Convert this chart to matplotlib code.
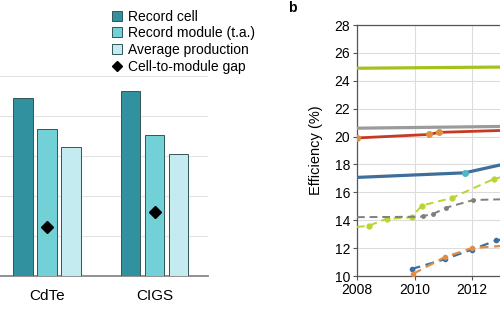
import numpy as np
import matplotlib.pyplot as plt
from matplotlib.lines import Line2D

plt.rcParams['font.family'] = ['Liberation Sans', 'DejaVu Sans']

# ===== a: 셀 / 모듈 / 평균 효율 =====
techs = ["CdTe", "CIGS"]
record_cell = [22.2, 23.1]
record_module = [18.4, 17.6]
avg_production = [16.1, 15.2]
gap = [6.1, 8.0]
bar_names = ["Record cell", "Record module (t.a.)", "Average production"]
bar_colors = ["#31919f", "#72d1d6", "#c4ecf0"]

# ===== b: 효율 추이 =====
green_x = [2008, 2014]
green_y = [24.9, 25.0]
grey_x = [2008, 2014]
grey_y = [20.6, 20.75]
red_x = [2008, 2010.5, 2010.85, 2014]
red_y = [19.9, 20.15, 20.3, 20.5]
blue_x = [2008, 2011.75, 2013.5, 2014]
blue_y = [17.07, 17.4, 18.2, 18.4]
gdash_x = [2008, 2008.4, 2009.03, 2009.9, 2010.25, 2011.3, 2012.75, 2014]
gdash_y = [13.52, 13.6, 14.1, 14.2, 15.05, 15.6, 16.95, 17.6]
kdash_x = [2008, 2010.2, 2010.3, 2010.65, 2011.1, 2012.05, 2014]
kdash_y = [14.22, 14.25, 14.3, 14.45, 14.9, 15.45, 15.55]
bdash_x = [2009.9, 2011.05, 2012.0, 2012.85, 2014]
bdash_y = [10.5, 11.2, 11.9, 12.55, 12.9]
odash_x = [2009.95, 2011.05, 2012.0, 2014]
odash_y = [10.15, 11.35, 12.0, 12.3]
years = [2008, 2010, 2012]

W, H = 500, 319
fig = plt.figure(figsize=(W/100, H/100), dpi=100)

def px(x0, y0, x1, y1):
    # 픽셀(위 기준) -> figure 좌표
    return [x0/W, 1 - y1/H, (x1-x0)/W, (y1-y0)/H]

# ----- 왼쪽 막대 -----
ax = fig.add_axes(px(-6.75, 68, 208.25, 276))
x = np.arange(len(techs))
off = 0.224
bw = 0.182
series = [record_cell, record_module, avg_production]
for k, vals in enumerate(series):
    ax.bar(x + (k-1)*off, vals, width=bw, color=bar_colors[k],
           edgecolor="#33555a", linewidth=0.7, zorder=3)
ax.plot(x, gap, linestyle="none", marker="D", color="black", markersize=6, zorder=4)
ax.set_xlim(-0.5, 1.5)
ax.set_ylim(0, 26)
ax.set_yticks([0, 5, 10, 15, 20, 25])
ax.yaxis.grid(True, color="#e3e3e3", linewidth=0.8, zorder=0)
ax.set_xticks(x)
ax.set_xticklabels(techs, fontsize=11)
ax.tick_params(axis="x", length=0, pad=9)
ax.tick_params(axis="y", length=0, labelleft=False)
for s in ["top", "right", "left"]:
    ax.spines[s].set_visible(False)
ax.spines["bottom"].set_color("#888888")
ax.spines["bottom"].set_linewidth(1.3)

handles = [Line2D([], [], linestyle="none", marker="s", markersize=7,
                  markerfacecolor=c, markeredgecolor="#33555a", markeredgewidth=0.7)
           for c in bar_colors]
handles.append(Line2D([], [], linestyle="none", marker="D", markersize=5, color="black"))
fig.legend(handles, bar_names + ["Cell-to-module gap"], loc="upper left",
           bbox_to_anchor=(106/W, 1 - 4/H), frameon=False, fontsize=10,
           handlelength=0.8, handletextpad=0.35, labelspacing=0.2, borderaxespad=0)

# ----- 오른쪽 선 -----
bx = fig.add_axes(px(357, 25, 587, 276))
bx.set_xlim(2008, 2016)
bx.set_ylim(10, 28)
bx.set_xticks(years)
bx.set_xticks([2014, 2016], minor=True)
bx.set_yticks(np.arange(10, 29, 2))
bx.grid(True, which="both", color="#dcdcdc", linewidth=0.8, zorder=0)
bx.tick_params(labelsize=10, length=3, color="#555555", pad=2)
bx.tick_params(which="minor", length=0)
for s in ["top", "left", "bottom"]:
    bx.spines[s].set_color("#555555")
    bx.spines[s].set_linewidth(0.9)
bx.spines["right"].set_visible(False)
bx.set_ylabel("Efficiency (%)", fontsize=10.5, labelpad=8)

bx.plot(green_x, green_y, color="#a3c31c", lw=2.3, zorder=3)
bx.plot(grey_x, grey_y, color="#9b9b9b", lw=2.3, zorder=3)
bx.plot(red_x, red_y, color="#c53a22", lw=2.0, zorder=3,
        marker="o", markersize=4, markerfacecolor="#e0903f",
        markeredgecolor="#e0903f", markevery=[0, 1, 2])
bx.plot(blue_x, blue_y, color="#3e6e9a", lw=2.3, zorder=3,
        marker="o", markersize=4, markerfacecolor="#4fb5c8",
        markeredgecolor="#4fb5c8", markevery=[1, 2])
bx.plot(gdash_x, gdash_y, color="#b8d534", lw=1.4, ls=(0, (4, 2.5)), zorder=3,
        marker="o", markersize=3.5, markevery=[1, 2, 3, 4, 5, 6])
bx.plot(kdash_x, kdash_y, color="#7f7f7f", lw=1.4, ls=(0, (4, 2.5)), zorder=3,
        marker="o", markersize=2.5, markevery=[2, 3, 4, 5])
bx.plot(bdash_x, bdash_y, color="#3b6ea5", lw=1.6, ls=(0, (4, 2.5)), zorder=3,
        marker="o", markersize=3, markevery=[0, 1, 2, 3])
bx.plot(odash_x, odash_y, color="#e08d45", lw=1.6, ls=(0, (4, 2.5)), zorder=3,
        marker="o", markersize=3, markevery=[0, 1, 2])

fig.text(292/W, 1 - 8/H, "b", fontsize=10, fontweight="bold", ha="center", va="center")

fig.savefig("out.png", dpi=100)
